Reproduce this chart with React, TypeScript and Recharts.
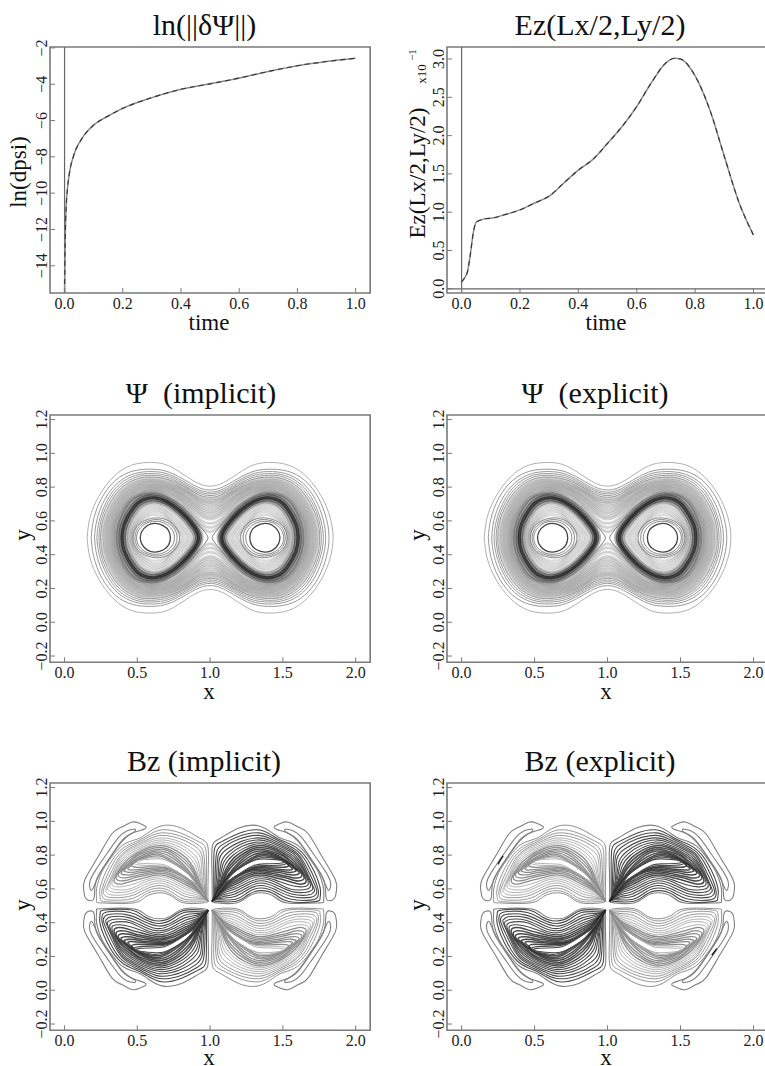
import { LineChart, Line, XAxis, YAxis, ReferenceArea, ReferenceLine } from 'recharts'

type Pt = [number, number]

// time histories
const dpsiTime = [0, 0.001, 0.003, 0.006, 0.01, 0.02, 0.03, 0.04, 0.05, 0.07, 0.1, 0.15, 0.2, 0.3, 0.4, 0.5, 0.6, 0.7, 0.8, 0.9, 1.0]
const dpsiValues = [-15.5, -14, -12, -10.6, -9.75, -8.6, -8.0, -7.55, -7.25, -6.75, -6.25, -5.75, -5.33, -4.74, -4.28, -3.98, -3.66, -3.3, -2.98, -2.75, -2.57]
const ezTime = [0, 0.01, 0.02, 0.03, 0.04, 0.05, 0.06, 0.08, 0.1, 0.15, 0.2, 0.25, 0.3, 0.35, 0.4, 0.45, 0.5, 0.55, 0.6, 0.65, 0.7, 0.73, 0.75, 0.8, 0.85, 0.9, 0.95, 1.0]
const ezValues = [0.09, 0.14, 0.22, 0.45, 0.73, 0.87, 0.89, 0.915, 0.92, 0.97, 1.03, 1.12, 1.21, 1.38, 1.55, 1.69, 1.9, 2.12, 2.38, 2.69, 2.95, 3.01, 3.0, 2.78, 2.34, 1.73, 1.13, 0.7]

const timeTicks = [0, 0.2, 0.4, 0.6, 0.8, 1.0]
const dpsiTicks = [-14, -12, -10, -8, -6, -4, -2]
const ezTicks = [0, 0.5, 1.0, 1.5, 2.0, 2.5, 3.0]
const xTicks = [0, 0.5, 1.0, 1.5, 2.0]
const yTicks = [-0.2, 0, 0.2, 0.4, 0.6, 0.8, 1.0, 1.2]

// Psi contours that wrap both islands: upper left quadrant, left point to saddle
const psiOuter: Pt[][] = [
  [[.155,.5],[.175,.62],[.235,.745],[.335,.86],[.46,.93],[.60,.946],[.72,.925],[.84,.862],[.93,.818],[1,.806]],
  [[.183,.5],[.2,.61],[.255,.735],[.35,.84],[.47,.895],[.60,.906],[.72,.888],[.84,.835],[.93,.795],[1,.783]],
  [[.206,.5],[.222,.605],[.275,.725],[.365,.825],[.48,.88],[.60,.892],[.72,.875],[.84,.822],[.93,.782],[1,.77]],
  [[.222,.5],[.238,.6],[.29,.717],[.375,.815],[.49,.87],[.60,.88],[.72,.864],[.84,.812],[.93,.772],[1,.76]],
  [[.236,.5],[.25,.598],[.30,.71],[.385,.806],[.495,.86],[.60,.87],[.72,.853],[.84,.803],[.93,.762],[1,.75]],
  [[.247,.5],[.26,.595],[.31,.703],[.393,.798],[.5,.85],[.60,.86],[.72,.843],[.84,.795],[.93,.752],[1,.74]],
  [[.259,.5],[.272,.592],[.32,.697],[.40,.79],[.505,.842],[.60,.851],[.72,.835],[.84,.787],[.93,.742],[1,.73]],
  [[.27,.5],[.283,.59],[.33,.69],[.408,.782],[.51,.833],[.60,.842],[.72,.826],[.84,.779],[.93,.732],[1,.72]],
  [[.281,.5],[.293,.588],[.338,.684],[.415,.775],[.515,.825],[.60,.834],[.72,.818],[.84,.771],[.93,.722],[1,.71]],
  [[.291,.5],[.302,.586],[.346,.678],[.422,.768],[.52,.817],[.60,.826],[.72,.81],[.84,.763],[.93,.712],[1,.70]],
  [[.30,.5],[.311,.584],[.353,.673],[.428,.761],[.525,.81],[.60,.818],[.72,.802],[.835,.755],[.93,.70],[1,.685]],
  [[.31,.5],[.32,.582],[.36,.668],[.434,.755],[.53,.803],[.60,.81],[.72,.794],[.83,.747],[.93,.688],[1,.67]],
  [[.318,.5],[.328,.58],[.367,.663],[.44,.749],[.535,.796],[.60,.803],[.72,.787],[.83,.739],[.93,.676],[1,.655]],
  [[.326,.5],[.335,.578],[.373,.658],[.445,.743],[.54,.789],[.61,.796],[.72,.779],[.825,.73],[.93,.662],[1,.64]],
  [[.333,.5],[.342,.577],[.379,.654],[.45,.737],[.545,.782],[.61,.789],[.72,.771],[.825,.722],[.93,.648],[1,.625]],
  [[.34,.5],[.348,.576],[.384,.649],[.455,.731],[.55,.775],[.61,.782],[.72,.763],[.82,.712],[.93,.634],[1,.61]],
  [[.346,.5],[.354,.575],[.389,.645],[.46,.725],[.55,.772],[.61,.777],[.72,.755],[.82,.703],[.93,.61],[1,.585]],
  [[.35,.5],[.362,.58],[.43,.705],[.51,.755],[.61,.77],[.72,.745],[.82,.69],[.93,.59],[1,.56]],
  [[.357,.5],[.372,.585],[.44,.703],[.52,.752],[.61,.765],[.715,.74],[.815,.682],[.92,.585],[1,.535]],
]

// the dark ring around each Psi island: upper half, left to right
const psiRing: Pt[][] = [
  [[.365,.5],[.38,.59],[.45,.70],[.525,.748],[.61,.76],[.71,.735],[.81,.675],[.905,.58],[.945,.5]],
  [[.38,.5],[.395,.585],[.463,.69],[.533,.737],[.61,.749],[.705,.725],[.803,.666],[.897,.574],[.933,.5]],
  [[.395,.5],[.41,.58],[.475,.68],[.54,.725],[.613,.737],[.70,.715],[.796,.657],[.888,.568],[.92,.5]],
  [[.41,.5],[.425,.575],[.487,.67],[.548,.713],[.615,.725],[.695,.705],[.788,.648],[.878,.562],[.907,.5]],
  [[.425,.5],[.44,.57],[.498,.66],[.556,.70],[.618,.712],[.69,.695],[.78,.64],[.865,.555],[.893,.5]],
]
// the pinched lines either side of the X point at x=1
const psiWaist: Pt[] = [[.36,.5],[.375,.59],[.445,.702],[.525,.752],[.61,.762],[.715,.738],[.815,.68],[.915,.585],[.975,.52],[.985,.5]]
const psiInner: Pt[][] = [
  [[.435,.5],[.45,.565],[.505,.652],[.56,.695],[.62,.705],[.685,.688],[.772,.632],[.855,.55],[.882,.5]],
  [[.443,.5],[.458,.562],[.513,.642],[.567,.683],[.622,.693],[.68,.677],[.762,.622],[.84,.545],[.868,.5]],
  [[.45,.5],[.465,.558],[.52,.632],[.574,.671],[.624,.68],[.68,.665],[.752,.612],[.828,.54],[.853,.5]],
  [[.456,.5],[.471,.555],[.526,.622],[.58,.658],[.625,.667],[.68,.652],[.745,.60],[.815,.535],[.838,.5]],
  [[.462,.5],[.476,.552],[.53,.612],[.585,.645],[.625,.653],[.68,.64],[.74,.59],[.80,.53],[.82,.5]],
  [[.467,.5],[.48,.55],[.535,.604],[.59,.632],[.625,.636],[.68,.625],[.74,.58],[.79,.525],[.805,.5]],
]
const psiCore: Pt[][] = [
  [[.47,.5],[.483,.546],[.53,.592],[.625,.618],[.72,.598],[.778,.545],[.79,.5]],
  [[.483,.5],[.495,.543],[.54,.586],[.628,.608],[.71,.589],[.76,.545],[.773,.5]],
  [[.494,.5],[.505,.538],[.55,.58],[.625,.598],[.70,.58],[.745,.538],[.755,.5]],
  [[.52,.5],[.53,.536],[.57,.573],[.625,.585],[.68,.571],[.715,.542],[.727,.5]],
]

// Bz contours of the upper right lobe, outermost first, starting at the tip near x=1
const bzLobe: Pt[][] = [
  [[1.015,.525],[1.013,.70],[1.015,.85],[1.07,.90],[1.197,.96],[1.33,.974],[1.43,.93],[1.5,.895],[1.607,.855],[1.70,.76],[1.745,.697],[1.78,.60],[1.78,.53],[1.74,.517],[1.53,.517],[1.44,.555],[1.345,.577],[1.26,.555],[1.18,.517],[1.05,.517],[1.015,.525]],
  [[1.025,.53],[1.025,.70],[1.03,.835],[1.08,.88],[1.2,.93],[1.33,.95],[1.42,.92],[1.5,.883],[1.6,.84],[1.69,.745],[1.755,.61],[1.755,.545],[1.72,.525],[1.54,.525],[1.45,.565],[1.35,.59],[1.26,.565],[1.18,.527],[1.06,.525],[1.025,.53]],
  [[1.03,.535],[1.035,.69],[1.045,.815],[1.09,.865],[1.2,.912],[1.33,.932],[1.42,.908],[1.5,.873],[1.6,.825],[1.68,.73],[1.74,.605],[1.74,.555],[1.70,.535],[1.55,.54],[1.45,.58],[1.35,.605],[1.26,.58],[1.18,.54],[1.07,.535],[1.03,.535]],
  [[1.03,.535],[1.045,.68],[1.055,.795],[1.10,.85],[1.2,.895],[1.33,.917],[1.42,.895],[1.5,.863],[1.6,.81],[1.67,.715],[1.73,.60],[1.725,.565],[1.69,.55],[1.56,.555],[1.45,.595],[1.35,.62],[1.26,.597],[1.17,.555],[1.08,.545],[1.03,.535]],
  [[1.03,.535],[1.055,.67],[1.065,.78],[1.115,.835],[1.21,.88],[1.33,.902],[1.42,.884],[1.5,.853],[1.6,.80],[1.665,.70],[1.715,.60],[1.71,.58],[1.68,.565],[1.56,.57],[1.45,.61],[1.35,.635],[1.26,.61],[1.17,.57],[1.09,.555],[1.03,.535]],
  [[1.025,.535],[1.06,.66],[1.08,.765],[1.13,.82],[1.21,.865],[1.33,.89],[1.42,.873],[1.5,.843],[1.595,.79],[1.66,.695],[1.705,.61],[1.69,.588],[1.66,.58],[1.56,.585],[1.45,.625],[1.35,.648],[1.26,.625],[1.17,.585],[1.09,.565],[1.025,.535]],
  [[1.02,.53],[1.065,.65],[1.09,.75],[1.145,.81],[1.22,.852],[1.33,.878],[1.42,.862],[1.5,.833],[1.59,.78],[1.655,.695],[1.69,.62],[1.67,.60],[1.64,.595],[1.55,.60],[1.45,.64],[1.35,.66],[1.26,.638],[1.17,.60],[1.09,.575],[1.02,.53]],
  [[1.018,.53],[1.07,.64],[1.10,.735],[1.155,.798],[1.23,.84],[1.33,.867],[1.42,.853],[1.5,.823],[1.585,.772],[1.65,.695],[1.675,.63],[1.655,.615],[1.62,.612],[1.54,.625],[1.45,.652],[1.35,.672],[1.26,.652],[1.17,.612],[1.09,.583],[1.018,.53]],
  [[1.015,.525],[1.07,.632],[1.11,.72],[1.165,.785],[1.24,.83],[1.33,.856],[1.42,.844],[1.5,.813],[1.58,.762],[1.64,.695],[1.66,.645],[1.64,.63],[1.6,.63],[1.52,.65],[1.44,.668],[1.35,.683],[1.26,.665],[1.17,.625],[1.09,.59],[1.015,.525]],
  [[1.013,.525],[1.075,.626],[1.115,.708],[1.172,.772],[1.25,.82],[1.33,.845],[1.42,.834],[1.5,.803],[1.57,.755],[1.63,.70],[1.645,.66],[1.62,.648],[1.58,.65],[1.51,.668],[1.44,.68],[1.35,.693],[1.26,.677],[1.17,.637],[1.09,.597],[1.013,.525]],
  [[1.012,.525],[1.08,.622],[1.12,.70],[1.18,.76],[1.25,.808],[1.33,.835],[1.41,.825],[1.5,.795],[1.56,.75],[1.615,.705],[1.63,.675],[1.6,.665],[1.56,.668],[1.5,.68],[1.43,.692],[1.35,.702],[1.26,.688],[1.17,.648],[1.09,.603],[1.012,.525]],
  [[1.012,.525],[1.085,.626],[1.13,.69],[1.19,.75],[1.26,.80],[1.335,.824],[1.41,.816],[1.49,.788],[1.55,.748],[1.6,.71],[1.61,.69],[1.58,.683],[1.54,.685],[1.49,.695],[1.42,.703],[1.35,.71],[1.26,.70],[1.17,.66],[1.09,.608],[1.012,.525]],
  [[1.015,.53],[1.09,.63],[1.135,.685],[1.20,.745],[1.27,.79],[1.34,.813],[1.41,.808],[1.49,.78],[1.55,.745],[1.585,.715],[1.59,.705],[1.56,.698],[1.52,.70],[1.47,.708],[1.41,.713],[1.35,.718],[1.26,.708],[1.17,.67],[1.09,.613],[1.015,.53]],
  [[1.02,.535],[1.09,.628],[1.14,.682],[1.21,.738],[1.28,.78],[1.345,.804],[1.41,.80],[1.49,.775],[1.54,.74],[1.565,.72],[1.55,.712],[1.5,.714],[1.43,.72],[1.36,.725],[1.28,.717],[1.18,.675],[1.09,.617],[1.02,.535]],
  [[1.03,.55],[1.10,.64],[1.15,.69],[1.22,.735],[1.29,.775],[1.35,.795],[1.42,.79],[1.49,.77],[1.54,.74],[1.5,.728],[1.43,.73],[1.36,.731],[1.28,.722],[1.19,.68],[1.10,.625],[1.03,.55]],
  [[1.04,.56],[1.11,.648],[1.16,.697],[1.23,.738],[1.30,.77],[1.36,.787],[1.42,.784],[1.49,.77],[1.52,.75],[1.46,.74],[1.36,.738],[1.29,.727],[1.20,.685],[1.11,.632],[1.04,.56]],
  [[1.06,.585],[1.12,.655],[1.17,.705],[1.24,.745],[1.31,.772],[1.37,.778],[1.43,.775],[1.49,.768],[1.505,.758],[1.48,.752],[1.37,.748],[1.30,.738],[1.21,.695],[1.12,.64],[1.06,.585]],
]

// thin crescents outside the lobes
const bzEdge: Pt[][] = [
  [[1.44,.97],[1.49,.99],[1.54,.995],[1.61,.965],[1.676,.925],[1.77,.79],[1.86,.656],[1.868,.59],[1.855,.545],[1.815,.53],[1.795,.56],[1.78,.656],[1.70,.77],[1.607,.885],[1.52,.935],[1.45,.955],[1.44,.97]],
  [[1.517,.955],[1.57,.945],[1.627,.906],[1.70,.82],[1.78,.72],[1.826,.645],[1.824,.60],[1.806,.6],[1.767,.675],[1.70,.77],[1.63,.855],[1.57,.91],[1.517,.94],[1.517,.955]],
]
// short extra contours only the explicit run shows
const bzSpecks: Pt[][] = [
  [[.25,.745],[.265,.77],[.284,.795]],
  [[1.714,.207],[1.73,.225],[1.748,.247]],
]

const mirrorX = (c: Pt[]): Pt[] => c.map(([x, y]) => [2 - x, y] as Pt)
const mirrorY = (c: Pt[]): Pt[] => c.map(([x, y]) => [x, 1 - y] as Pt)
const flip = (c: Pt[]): Pt[] => [...c].reverse()

// the Psi picture is symmetric about x=1 and y=0.5, so the read quarter is reused
const closeOuter = (q: Pt[]): Pt[] => [
  ...q,
  ...flip(mirrorX(q)).slice(1),
  ...mirrorY(mirrorX(q)).slice(1),
  ...flip(mirrorY(q)).slice(1),
]
const closeHalf = (u: Pt[]): Pt[] => [...u, ...flip(mirrorY(u)).slice(1)]

type Contour = { pts: Pt[]; stroke: string; width: number; opacity?: number }

const lobes = (list: Pt[][], stroke: string, width: number, opacity = 1): Contour[] =>
  list.flatMap((u) => [
    { pts: closeHalf(u), stroke, width, opacity },
    { pts: mirrorX(closeHalf(u)), stroke, width, opacity },
  ])

const ringOpacity = [0.35, 0.6, 0.85, 0.6, 0.35]

const psiContours: Contour[] = [
  ...psiOuter.map((q, i) => {
    const wash = i >= 6
    return {
      pts: closeOuter(q),
      stroke: i === 0 ? '#b0b0b0' : wash ? '#777' : '#999',
      width: wash ? 2.8 : 1,
      opacity: wash ? 0.32 : 1,
    }
  }),
  ...psiRing.flatMap((u, i) => lobes([u], '#222', 3.2, ringOpacity[i])),
  ...lobes([psiWaist], '#777', 1),
  ...lobes(psiInner, '#777', 2.6, 0.25),
  ...psiCore.flatMap((u, i) => lobes([u], i === 3 ? '#444' : '#777', i === 3 ? 1.3 : 0.9)),
]

// Bz: upper right and lower left lobes are dark, the other two are faint
const bzStyle = (i: number, dark: boolean) => {
  const band = i >= 8 && i <= 14
  if (dark) return { stroke: i === 0 ? '#808080' : band ? '#2a2a2a' : '#4a4a4a', width: band ? 1.5 : 1.1, opacity: band ? 0.85 : 1 }
  return { stroke: i === 0 ? '#808080' : band ? '#8c8c8c' : i < 4 ? '#8c8c8c' : '#a8a8a8', width: band ? 1.3 : 0.9, opacity: 1 }
}

const bzContours = (specks: boolean): Contour[] => {
  const out: Contour[] = []
  bzLobe.forEach((c, i) => {
    const d = bzStyle(i, true)
    const l = bzStyle(i, false)
    out.push({ pts: c, ...d })
    out.push({ pts: mirrorX(mirrorY(c)), ...d })
    out.push({ pts: mirrorX(c), ...l })
    out.push({ pts: mirrorY(c), ...l })
  })
  bzEdge.forEach((c) => {
    for (const pts of [c, mirrorX(c), mirrorY(c), mirrorX(mirrorY(c))]) out.push({ pts, stroke: '#808080', width: 1.1 })
  })
  if (specks) bzSpecks.forEach((pts) => out.push({ pts, stroke: '#222', width: 1.4 }))
  return out
}

const toRows = (c: Pt[]) => c.map(([x, y]) => ({ x, y }))
const zip = (xs: number[], ys: number[]) => xs.map((x, i) => ({ x, y: ys[i] }))

const FONT = '"Liberation Serif"'
const AXIS = '#7a7a7a'
const INK = '#222'

const fmt = (v: number, dp: number) => (v < 0 ? '\u2212' : '') + Math.abs(v).toFixed(dp)

function Panel(props: {
  box: [number, number, number, number]
  xDomain: [number, number]
  yDomain: [number, number]
  xt: number[]
  yt: number[]
  yDp: number
  zeroX?: boolean
  zeroY?: boolean
  children: any
}) {
  const { box, xDomain, yDomain, xt, yt, yDp } = props
  const [x0, x1, y0, y1] = box
  const left = 45
  const pad = 22
  const XTick = (p: any) => (
    <text x={p.x} y={p.y} textAnchor="middle" fontFamily={FONT} fontSize={16} fill={INK}>
      {fmt(p.payload.value, 1)}
    </text>
  )
  const YTick = (p: any) => (
    <text x={p.x} y={p.y} transform={`rotate(-90 ${p.x} ${p.y})`} textAnchor="middle" fontFamily={FONT} fontSize={16} fill={INK}>
      {fmt(p.payload.value, yDp)}
    </text>
  )
  return (
    <div style={{ position: 'absolute', left: x0 - left, top: y0 - pad }}>
      <LineChart
        width={x1 - x0 + left + pad}
        height={y1 - y0 + pad + 30}
        margin={{ top: pad, right: pad, bottom: 0, left: 0 }}
      >
        <XAxis dataKey="x" type="number" domain={xDomain} ticks={xt} allowDataOverflow axisLine={false} height={30}
          tickSize={-5} tickMargin={21} stroke={AXIS} tick={XTick} interval={0} />
        <YAxis dataKey="y" type="number" domain={yDomain} ticks={yt} allowDataOverflow axisLine={false} width={left}
          tickSize={-5} tickMargin={8} stroke={AXIS} tick={YTick} interval={0} />
        <ReferenceArea x1={xDomain[0]} x2={xDomain[1]} y1={yDomain[0]} y2={yDomain[1]} fill="none" stroke={AXIS} strokeWidth={1.6} />
        {props.zeroX && <ReferenceLine x={0} stroke="#666" strokeWidth={1.2} />}
        {props.zeroY && <ReferenceLine y={0} stroke="#666" strokeWidth={1.2} />}
        {props.children}
      </LineChart>
    </div>
  )
}

const contourLines = (list: Contour[]) =>
  list.map((c, i) => (
    <Line key={i} data={toRows(c.pts)} dataKey="y" type="natural" dot={false} stroke={c.stroke} strokeWidth={c.width} strokeOpacity={c.opacity ?? 1} isAnimationActive={false} />
  ))

const historyLines = (rows: { x: number; y: number }[]) => [
  <Line key="solid" data={rows} dataKey="y" type="monotone" dot={false} stroke="#8a8a8a" strokeWidth={1.5} isAnimationActive={false} />,
  <Line key="dash" data={rows} dataKey="y" type="monotone" dot={false} stroke="#333" strokeWidth={1.1} strokeDasharray="5 4" isAnimationActive={false} />,
]

const titles: [string, number, number][] = [
  ['ln(||δΨ||)', 204.5, 35],
  ['Ez(Lx/2,Ly/2)', 600, 35],
  ['Ψ  (implicit)', 201, 403],
  ['Ψ  (explicit)', 595, 403],
  ['Bz (implicit)', 204, 771],
  ['Bz (explicit)', 600, 771],
]
const xLabels: [string, number, number][] = [
  ['time', 209, 330],
  ['time', 606, 330],
  ['x', 209, 699],
  ['x', 606, 699],
  ['x', 209, 1065],
  ['x', 606, 1065],
]
const yLabels: [string, number, number][] = [
  ['ln(dpsi)', 26, 172],
  ['Ez(Lx/2,Ly/2)', 425, 173],
  ['y', 30, 535],
  ['y', 425, 535],
  ['y', 30, 905],
  ['y', 425, 905],
]

export default function App() {
  const psi = contourLines(psiContours)
  return (
    <div style={{ position: 'fixed', left: 0, top: 0, width: 765, height: 1066, overflow: 'hidden', background: '#fff' }}>
      <Panel box={[49.5, 369.7, 47.3, 293.3]} xDomain={[-0.05, 1.05]} yDomain={[-15.5, -1.95]} xt={timeTicks} yt={dpsiTicks} yDp={0} zeroX>
        {historyLines(zip(dpsiTime, dpsiValues))}
      </Panel>
      <Panel box={[446.5, 767.6, 47.3, 293.3]} xDomain={[-0.05, 1.05]} yDomain={[-0.055, 3.157]} xt={timeTicks} yt={ezTicks} yDp={1} zeroX zeroY>
        {historyLines(zip(ezTime, ezValues))}
      </Panel>
      <Panel box={[49.5, 369.7, 414.7, 662]} xDomain={[-0.1, 2.1]} yDomain={[-0.237, 1.227]} xt={xTicks} yt={yTicks} yDp={1}>{psi}</Panel>
      <Panel box={[446.5, 767.6, 414.7, 662]} xDomain={[-0.1, 2.1]} yDomain={[-0.237, 1.227]} xt={xTicks} yt={yTicks} yDp={1}>{psi}</Panel>
      <Panel box={[49.5, 369.7, 782.7, 1030]} xDomain={[-0.1, 2.1]} yDomain={[-0.237, 1.227]} xt={xTicks} yt={yTicks} yDp={1}>{contourLines(bzContours(false))}</Panel>
      <Panel box={[446.5, 767.6, 782.7, 1030]} xDomain={[-0.1, 2.1]} yDomain={[-0.237, 1.227]} xt={xTicks} yt={yTicks} yDp={1}>{contourLines(bzContours(true))}</Panel>

      <svg width={765} height={1066} style={{ position: 'absolute', left: 0, top: 0, pointerEvents: 'none' }} fontFamily={FONT} fill="#111">
        {titles.map(([t, x, y]) => (
          <text key={t} x={x} y={y} textAnchor="middle" fontSize={30} style={{ whiteSpace: 'pre' }}>{t}</text>
        ))}
        {xLabels.map(([t, x, y], i) => (
          <text key={i} x={x} y={y} textAnchor="middle" fontSize={23}>{t}</text>
        ))}
        {yLabels.map(([t, x, y], i) => (
          <text key={i} x={x} y={y} textAnchor="middle" fontSize={23} transform={`rotate(-90 ${x} ${y})`}>{t}</text>
        ))}
        <text x={425.5} y={74} textAnchor="middle" fontSize={13} transform="rotate(-90 425.5 74)">x10</text>
        <text x={416} y={55} textAnchor="middle" fontSize={11} transform="rotate(-90 416 55)">{'\u22121'}</text>
      </svg>
    </div>
  )
}
